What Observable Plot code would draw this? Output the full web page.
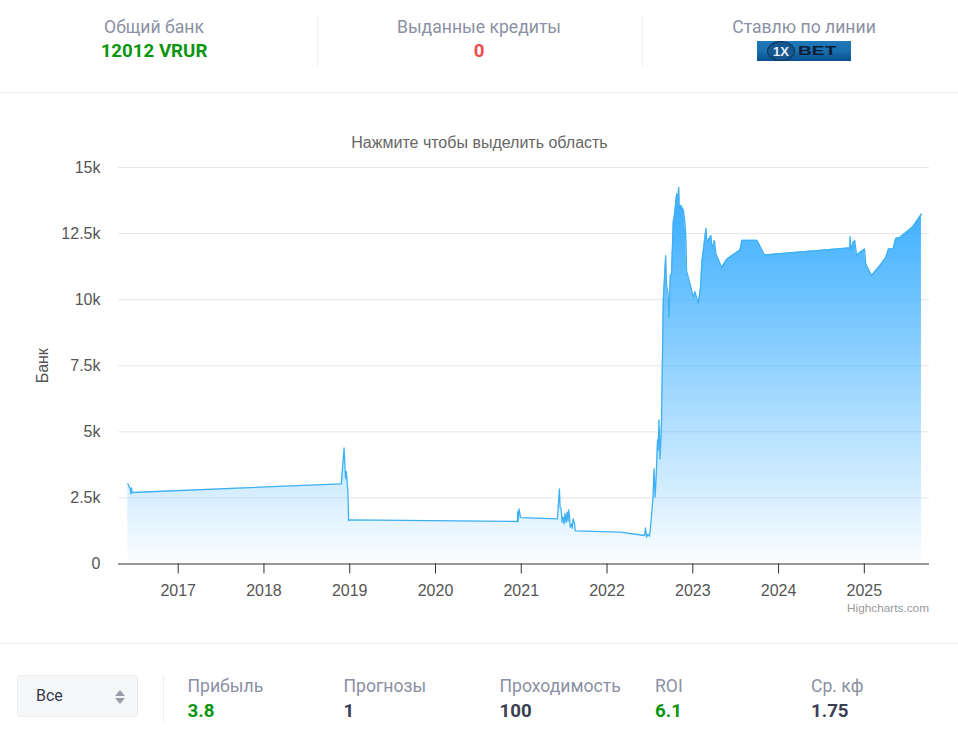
<!DOCTYPE html>
<html lang="ru"><head><meta charset="utf-8">
<script src="https://cdn.jsdelivr.net/npm/d3@7"></script>
<script src="https://cdn.jsdelivr.net/npm/@observablehq/plot@0.6"></script>
<style>
html,body{margin:0;padding:0;background:#fff;width:958px;height:745px;overflow:hidden;font-family:Roboto,sans-serif}
.abs{position:absolute;white-space:nowrap}
.c{transform:translateX(-50%);text-align:center}
.lab{font-size:17.6px;color:#8b90a3;line-height:20px}
.val{font-size:18.7px;font-weight:700;line-height:22px;color:#3a4054}
.green{color:#0a960f}.red{color:#f04c4f}
.rule{position:absolute;background:#eff0f3}
#chart{position:absolute;left:0;top:110px}
#chart svg{display:block}
</style></head><body>
<div class="abs c lab" style="left:154px;top:17px">Общий банк</div>
<div class="abs c val green" style="left:154px;top:40px">12012 VRUR</div>
<div class="abs c lab" style="left:479px;top:17px">Выданные кредиты</div>
<div class="abs c val red" style="left:479px;top:40px">0</div>
<div class="abs c lab" style="left:804px;top:17px">Ставлю по линии</div>
<div class="abs" style="left:757px;top:41px;width:94px;height:20px;background:linear-gradient(#1f78b8,#1a6fae 50%,#0a4f8e);overflow:hidden">
  <div class="abs" style="left:10px;top:0;width:26px;height:18px;border:1px solid #0c3560;border-radius:50%;background:#16578f"></div>
  <div class="abs" style="left:16px;top:3px;font:bold 13px 'Liberation Sans';color:#e6eff8">1X</div>
  <div class="abs" style="left:41px;top:3px;font:900 12px 'Liberation Sans';transform:scaleX(1.6);transform-origin:left;color:#0b2038">BET</div>
</div>
<div class="rule" style="left:317px;top:15px;width:1px;height:52px"></div>
<div class="rule" style="left:642px;top:15px;width:1px;height:52px"></div>
<div class="rule" style="left:0;top:92px;width:958px;height:1px"></div>

<div class="abs c" style="left:479.5px;top:134px;font:16px 'Liberation Sans';color:#666">Нажмите чтобы выделить область</div>
<div id="chart"></div>
<div class="abs" style="right:29px;top:601px;font:11.8px 'Liberation Sans';color:#999">Highcharts.com</div>

<div class="rule" style="left:0;top:643px;width:958px;height:1px"></div>
<div class="abs" style="left:17px;top:675px;width:119px;height:40px;background:#f6f7f9;border:1px solid #e9ebee;border-radius:4px"></div>
<div class="abs" style="left:36px;top:686px;font-size:16px;line-height:19px;color:#343a4e">Все</div>
<div class="abs" style="left:115px;top:690px;width:0;height:0;border:5px solid transparent;border-top:0;border-bottom:6px solid #9a9ea8"></div>
<div class="abs" style="left:115px;top:698px;width:0;height:0;border:5px solid transparent;border-bottom:0;border-top:6px solid #9a9ea8"></div>
<div class="rule" style="left:163px;top:675px;width:1px;height:47px"></div>
<div class="abs lab" style="left:187.5px;top:676px">Прибыль</div>
<div class="abs val green" style="left:187.5px;top:700px">3.8</div>
<div class="abs lab" style="left:343.5px;top:676px">Прогнозы</div>
<div class="abs val" style="left:343.5px;top:700px">1</div>
<div class="abs lab" style="left:499.5px;top:676px">Проходимость</div>
<div class="abs val" style="left:499.5px;top:700px">100</div>
<div class="abs lab" style="left:655px;top:676px">ROI</div>
<div class="abs val green" style="left:655px;top:700px">6.1</div>
<div class="abs lab" style="left:811px;top:676px">Ср. кф</div>
<div class="abs val" style="left:811px;top:700px">1.75</div>

<script>
const years = [
2016.413,2016.444,2016.448,2016.456,2016.462,
2018.902,2018.934,2018.949,2018.955,2018.960,2018.978,2018.987,2018.995,
2020.956,2020.958,2020.964,2020.975,2020.991,2020.999,
2021.422,2021.445,2021.453,2021.465,2021.476,2021.488,2021.500,2021.511,2021.523,2021.535,2021.546,2021.552,2021.564,2021.570,2021.587,2021.593,2021.605,2021.622,2021.628,
2022.152,2022.437,2022.449,2022.461,2022.478,2022.496,2022.513,2022.536,2022.548,2022.560,2022.571,2022.589,2022.595,2022.606,2022.618,2022.635,
2022.656,2022.684,2022.694,2022.711,2022.723,2022.738,2022.752,2022.773,2022.781,2022.812,2022.819,2022.836,2022.843,2022.862,2022.892,2022.909,2022.921,2022.927,2022.967,
2023.008,2023.025,2023.064,2023.090,2023.107,2023.125,2023.154,2023.165,2023.212,2023.224,2023.253,2023.270,2023.337,2023.398,2023.550,2023.573,2023.748,2023.837,
2024.831,2024.835,2024.843,2024.869,2024.889,2024.909,
2025.002,2025.017,2025.084,2025.181,2025.251,2025.282,2025.335,2025.367,2025.413,2025.565,2025.666];
const bank = [
3033,2817,2647,2880,2704,
3033,4395,3347,3230,3500,2780,1645,1670,
1607,1985,1610,2087,1770,1758,
1709,2844,2148,2098,1580,1770,1520,1910,1580,1959,1619,2050,1770,1392,1520,1354,1709,1520,1256,
1203,1078,1369,1014,1130,1051,1580,2527,3600,2527,3158,4697,4293,5453,3978,5313,
9966,11668,10533,10280,9334,10911,10976,12990,13050,14000,13560,14250,13560,13560,13370,12880,12235,11100,10610,
10090,10305,9860,10450,11480,11920,12700,12170,12425,11920,12235,11730,11225,11540,11880,12246,12246,11690,
11960,12385,11860,12170,12235,11690,
11920,11350,10910,11290,11600,11920,11920,12320,12350,12760,13240];
const yTicks = [0,2500,5000,7500,10000,12500,15000];
const xTicks = [2017,2018,2019,2020,2021,2022,2023,2024,2025];
const series = years.map((x,i)=>({x,y:bank[i]}));

const gradient = () => {
  const defs = d3.create("svg:defs");
  const g = defs.append("linearGradient").attr("id","bankFill")
    .attr("x1",0).attr("y1",0).attr("x2",0).attr("y2",1);
  g.append("stop").attr("offset","0%").attr("stop-color","#33abff").attr("stop-opacity",1);
  g.append("stop").attr("offset","100%").attr("stop-color","#33abff").attr("stop-opacity",0.02);
  return defs.node();
};

const plot = Plot.plot({
  width:958,height:530,
  marginLeft:118,marginRight:29,marginTop:57,marginBottom:76.5,
  style:{fontFamily:"'Liberation Sans',Arial,sans-serif",fontSize:"16px",color:"#555",background:"transparent"},
  x:{type:"linear",domain:[2016.304,2025.76]},
  y:{domain:[0,15000]},
  marks:[
    gradient,
    Plot.ruleY(yTicks.slice(1),{stroke:"#e6e6e6",strokeWidth:1}),
    Plot.areaY(series,{x:"x",y:"y",fill:"url(#bankFill)"}),
    Plot.lineY(series,{x:"x",y:"y",stroke:"#3fb1f3",strokeWidth:1.3}),
    Plot.ruleY([0],{stroke:"#333",strokeWidth:1}),
    Plot.axisX({ticks:xTicks,tickFormat:d=>String(d),tickSize:10,tickPadding:11,stroke:"#333",fontSize:16,label:null}),
    Plot.axisY({ticks:yTicks,tickFormat:d=>d===0?"0":d/1000+"k",tickSize:0,tickPadding:18,fontSize:16,label:"Банк",labelAnchor:"center",labelArrow:"none",labelOffset:82})
  ]
});
document.getElementById("chart").appendChild(plot);
</script>
</body></html>
